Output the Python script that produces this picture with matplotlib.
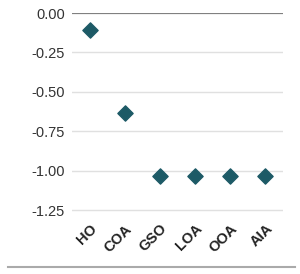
import matplotlib
matplotlib.use("Agg")
import matplotlib.pyplot as plt
from matplotlib.lines import Line2D

categories = ["HO", "COA", "GSO", "LOA", "OOA", "AIA"]
values = [-0.11, -0.635, -1.035, -1.035, -1.035, -1.035]
yticks = [0.00, -0.25, -0.50, -0.75, -1.00, -1.25]

plt.rcParams['font.family'] = ['Liberation Sans', 'DejaVu Sans']
fig = plt.figure(figsize=(3.0, 2.74), dpi=100)
ax = fig.add_axes([72/300, 1 - 212/274, (283-72)/300, (212-13)/274])

x = list(range(len(categories)))
ax.scatter(x, values, marker='D', s=60, color='#1d5a66', zorder=3, clip_on=False)

ax.set_xlim(-0.5, len(categories) - 0.5)
ax.set_ylim(-1.26, 0.0)
ax.set_yticks(yticks)
ax.set_yticklabels([f"{v:.2f}" for v in yticks], fontsize=10.5, color='#333333')
for v in yticks:
    if v == 0:
        ax.axhline(v, color='#808080', lw=1.6, zorder=1)
    else:
        ax.axhline(v, color='#e0e0e0', lw=1.0, zorder=1)
ax.set_xticks(x)
ax.set_xticklabels(categories, rotation=45, ha='right', rotation_mode='anchor',
                   fontsize=10.5, fontweight='bold', color='#222222')
ax.tick_params(axis='both', length=0, pad=5)
ax.tick_params(axis='x', pad=7)
for s in ax.spines.values():
    s.set_visible(False)

fig.add_artist(Line2D([8/300, 295/300], [1 - 267/274, 1 - 267/274],
                      color='#aaaaaa', lw=1.5, transform=fig.transFigure))

fig.savefig("out.png", dpi=100)
